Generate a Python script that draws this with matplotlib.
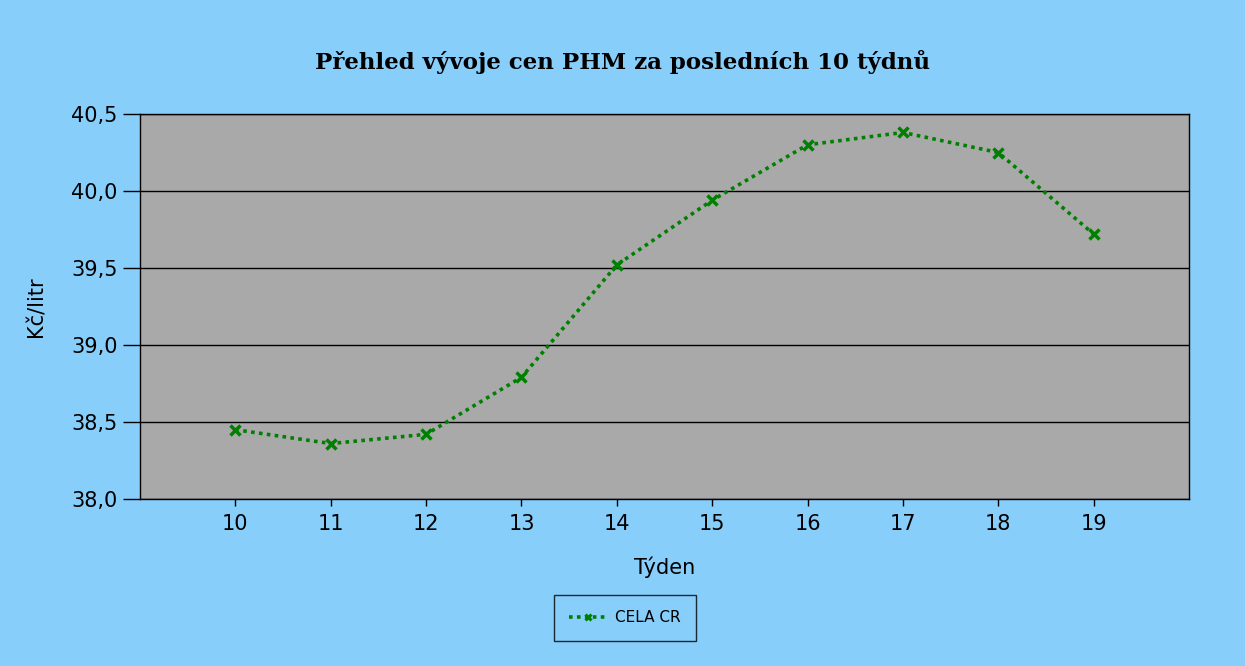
import matplotlib
matplotlib.use("Agg")
import matplotlib.pyplot as plt
from matplotlib.ticker import FuncFormatter, MultipleLocator
from matplotlib.lines import Line2D

weeks = [10, 11, 12, 13, 14, 15, 16, 17, 18, 19]
prices = [38.45, 38.36, 38.42, 38.79, 39.52, 39.94, 40.30, 40.38, 40.25, 39.72]
series_name = "CELA CR"
title = "Přehled vývoje cen PHM za posledních 10 týdnů"
xlabel = "Týden"
ylabel = "Kč/litr"

bg = "#87CEFA"
plot_bg = "#A9A9A9"
green = "#008000"

fig = plt.figure(figsize=(12.45, 6.66), dpi=100, facecolor=bg)
ax = fig.add_axes([140/1245, 1 - 499/666, (1189-140)/1245, (499-114)/666])
ax.set_facecolor(plot_bg)

ax.plot(weeks, prices, color=green, linestyle=(0, (1, 1.2)), linewidth=2.6,
        marker="x", markersize=7, markeredgewidth=2.5, label=series_name)

ax.set_xlim(9, 20)
ax.set_ylim(38.0, 40.5)
ax.yaxis.set_major_locator(MultipleLocator(0.5))
ax.yaxis.set_major_formatter(FuncFormatter(lambda v, p: f"{v:.1f}".replace(".", ",")))
ax.set_xticks(weeks)
ax.set_xticklabels([str(w) for w in weeks])
ax.grid(axis="y", color="black", linewidth=1)
ax.set_axisbelow(True)

for s in ax.spines.values():
    s.set_color("black")
    s.set_linewidth(1)

tick_font = "DejaVu Sans"
ax.tick_params(axis="y", length=12, width=1, labelsize=15, pad=4, colors="black")
ax.tick_params(axis="x", length=5, width=1, labelsize=15, pad=6, colors="black")
for lbl in ax.get_xticklabels() + ax.get_yticklabels():
    lbl.set_fontfamily(tick_font)

ax.set_xlabel(xlabel, fontsize=15, fontfamily=tick_font, labelpad=16)
ax.set_ylabel(ylabel, fontsize=15, fontfamily=tick_font, labelpad=18)

fig.text(0.5, 1 - 62/666, title, ha="center", va="center", fontsize=16.5,
         fontweight="bold", fontfamily="DejaVu Serif")

handle = Line2D([], [], color=green, linestyle=(0, (1, 1.2)), linewidth=2.6,
                marker="x", markersize=5, markeredgewidth=2.2)
leg = fig.legend([handle], [series_name], loc="center",
                 bbox_to_anchor=(625/1245, 1 - 618/666),
                 frameon=True, fancybox=False, handlelength=2.4,
                 borderpad=1.0, handletextpad=0.6, borderaxespad=0,
                 prop={"family": "DejaVu Sans", "size": 11})
leg.get_frame().set_facecolor(bg)
leg.get_frame().set_edgecolor("black")
leg.get_frame().set_linewidth(1)

fig.savefig("out.png", dpi=100, facecolor=bg)
